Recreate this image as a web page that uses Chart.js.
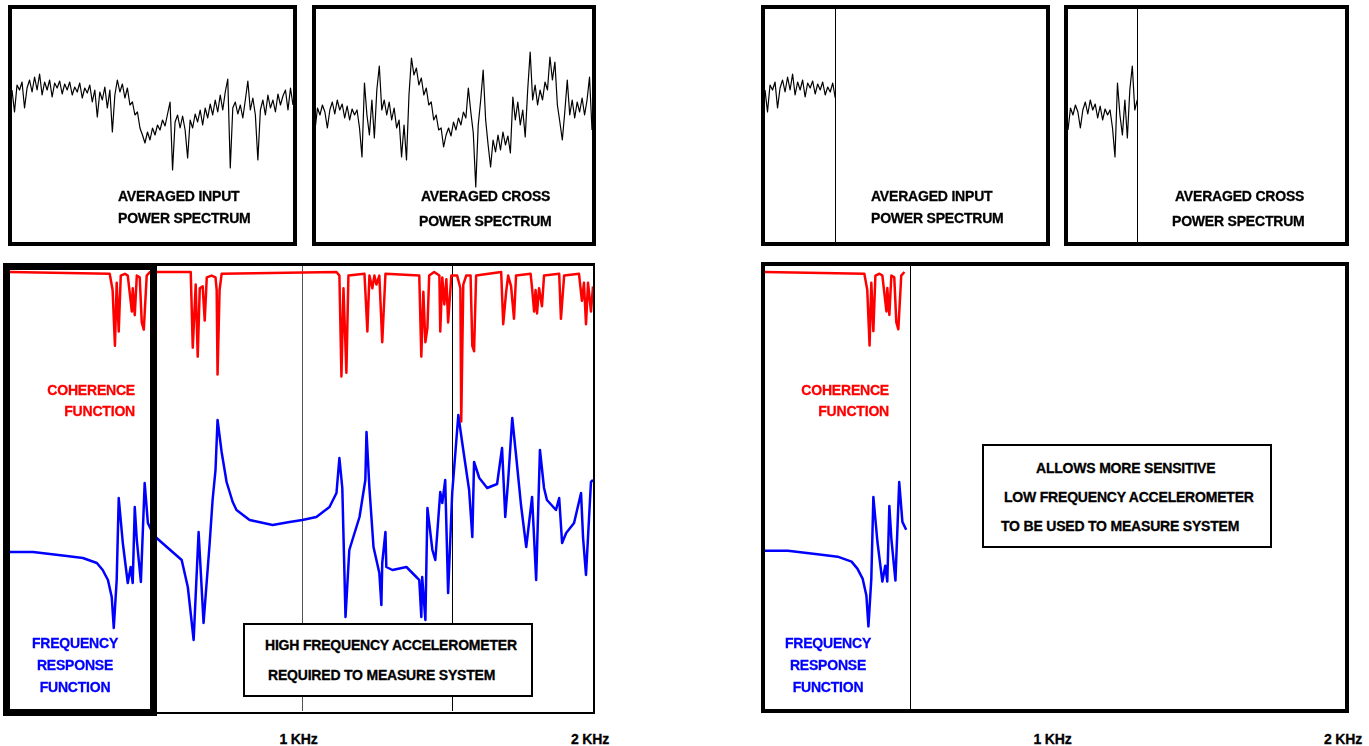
<!DOCTYPE html>
<html>
<head>
<meta charset="utf-8">
<script src="https://cdn.jsdelivr.net/npm/chart.js@4.4.1/dist/chart.umd.min.js"></script>
<style>
  body { margin: 0; background: #fff; }
  #page { position: relative; width: 1369px; height: 746px; overflow: hidden; background: #fff;
          font-family: "Liberation Sans", Arial, sans-serif; font-weight: bold; }
  canvas { position: absolute; }
  .frame { position: absolute; box-sizing: border-box; border: 4px solid #000; }
  .note { position: absolute; box-sizing: border-box; border: 2px solid #000; background: #fff; z-index: 3; }
  .lbl { position: absolute; font-size: 14px; letter-spacing: -0.2px; white-space: nowrap; line-height: 16px; z-index: 4;
         -webkit-text-stroke: 0.3px currentColor; }
</style>
</head>
<body>
<div id="page">
  <!-- top spectra, left half -->
  <div class="frame" style="left:8px;top:5px;width:289px;height:241px;"></div>
  <div class="frame" style="left:312px;top:5px;width:284px;height:241px;"></div>
  <canvas id="inL" width="281" height="233" style="left:12px;top:9px;"></canvas>
  <canvas id="crL" width="277" height="233" style="left:315px;top:9px;"></canvas>

  <!-- top spectra, right half -->
  <div class="frame" style="left:761px;top:5px;width:289px;height:241px;"></div>
  <div class="frame" style="left:1064px;top:5px;width:285px;height:241px;"></div>
  <canvas id="inR" width="281" height="233" style="left:765px;top:9px;"></canvas>
  <canvas id="crR" width="277" height="233" style="left:1068px;top:9px;"></canvas>

  <!-- bottom left -->
  <div class="frame" style="left:6px;top:263px;width:589px;height:451px;border-width:3px 2px 2px 0;"></div>
  <canvas id="frL" width="583" height="445" style="left:10px;top:266px;"></canvas>
  <div class="frame" style="left:3px;top:263px;width:154px;height:453px;border-width:7px;z-index:2;"></div>
  <div class="note" style="left:243px;top:623px;width:290px;height:74px;"></div>

  <!-- bottom right -->
  <div class="frame" style="left:761px;top:262px;width:588px;height:451px;"></div>
  <canvas id="frR" width="581" height="443" style="left:765px;top:266px;"></canvas>
  <div class="note" style="left:982px;top:444px;width:290px;height:104px;"></div>
</div>

<script>
// frequency bin of the averaged spectra (113 bins over 0 - 2 KHz)
const spectrumBinHz = 2000 / 112;

// averaged input power spectrum, level
const inputSpectrum = [
  150,128,155,150,158,132,152,160,148,163,150,166,145,158,150,160,143,157,152,159,
  146,156,150,158,145,153,148,157,142,152,147,155,138,150,123,148,140,153,132,150,108,145,
  160,148,156,142,152,135,
  138,125,128,112,105,97,
  108,100,112,105,115,110,120,114,126,
  138,70,118,125,
  112,124,110,82,120,
  112,126,118,130,115,132,122,136,125,140,128,145,130,148,
  161,72,132,
  138,126,135,122,140,159,130,
  142,125,80,130,
  140,125,145,132,140,128,146,135,144,150,130,152,135
];

// averaged cross power spectrum
const crossSpectrum = [
  110,132,125,135,128,112,130,138,126,140,
  130,136,122,134,120,131,125,130,112,83,
  157,125,105,140,102,150,174,130,140,125,
  138,120,132,112,120,83,115,80,145,182,
  165,172,155,162,145,152,135,138,120,125,
  110,112,93,105,112,104,118,110,122,115,
  128,122,152,128,107,53,115,140,170,120,
  95,73,100,88,105,90,108,95,104,87,
  143,120,138,115,130,103,150,188,140,155,
  135,150,140,158,150,183,160,178,135,118,
  100,128,160,125,140,122,138,128,142,125,
  140,163,110
];

// coherence function
const coherenceHz = [
  0,342,352,360,366,373,380,394,404,418,421,428,435,445,452,459,469,480,
  620,627,637,644,651,661,668,675,692,705,709,712,719,726,
  1120,1130,1137,1144,1154,1161,
  1216,1226,1233,1243,1250,1257,1267,1277,1288,
  1404,1411,1418,1425,1432,1438,1455,
  1473,1476,1483,1490,1497,1503,1514,
  1534,1545,1548,1555,1565,1580,1586,1592,1599,
  1685,1692,1702,1709,1719,1729,1736,
  1786,1791,1798,1803,1808,1815,1825,1832,
  1884,1890,1901,
  1952,1962,1969,1976,1983,1993,2000
];
const coherence = [
  1.0,0.99,0.9,0.59,0.94,0.67,0.98,0.99,0.98,0.78,0.91,0.76,0.98,0.97,0.72,0.68,0.98,1.0,
  1.0,0.58,0.93,0.53,0.91,0.92,0.73,0.97,0.98,0.97,0.9,0.43,0.9,0.99,
  1.0,0.98,0.42,0.91,0.44,0.98,
  0.99,0.67,0.98,0.91,0.98,0.93,0.98,0.61,0.99,
  0.98,0.53,0.89,0.61,0.69,0.98,1.0,
  0.98,0.67,0.97,0.82,0.96,0.72,0.98,
  0.98,0.91,0.17,0.93,0.98,0.98,0.59,0.56,0.98,
  1.0,0.71,0.89,0.98,0.92,0.74,0.98,
  0.99,0.91,0.78,0.9,0.77,0.91,0.81,0.98,
  0.99,0.74,0.98,
  0.99,0.84,0.94,0.71,0.94,0.78,0.92
];

// frequency response function magnitude (relative level)
const frfHz = [
  0,79,195,250,298,318,336,349,356,366,
  373,387,404,414,421,428,435,449,462,473,
  486,503,538,589,610,630,647,664,685,695,
  705,712,726,743,764,777,822,901,959,1003,
  1051,1096,1120,1130,1140,1151,1164,1199,1219,1223,
  1233,1247,1267,1274,1277,1288,1291,1312,1360,1394,
  1404,1411,1414,1425,1432,1449,1459,1476,1483,1493,
  1503,1517,1538,1551,1575,1586,1592,1610,1637,1671,
  1688,1699,1709,1723,1736,1753,1771,1791,1805,1818,
  1832,1842,1873,1884,1894,1908,1935,1959,1966,1976,
  1993,2000
];
const frfLevel = [
  159,159,155,153,148,141,131,114,83,131,
  213,168,128,144,128,204,171,129,228,188,
  180,173,164,151,124,71,179,88,168,211,
  241,291,259,229,209,201,191,186,189,191,
  194,204,218,253,223,94,161,194,231,279,
  223,164,138,106,148,179,144,141,144,134,
  131,94,134,91,203,161,151,219,208,231,
  118,218,296,269,221,174,249,233,223,227,
  263,194,231,293,256,206,164,214,131,261,
  223,211,201,213,168,178,188,218,173,136,
  229,231
];

// low frequency accelerometer range and grid lines
const lowRangeHz = 500;
const gridHzLeft = [1000, 1515];
const tickHz = [1000, 2000];
const tickLabels = ['1 KHz', '2 KHz'];

const markerPlugin = {
  id: 'markers',
  beforeDatasetsDraw(chart, args, opts) {
    const { ctx, chartArea, scales } = chart;
    (opts.lines || []).forEach(function (m) {
      const x = Math.round(scales.x.getPixelForValue(m.hz)) + 0.5;
      ctx.save();
      ctx.strokeStyle = m.color;
      ctx.lineWidth = 1;
      ctx.beginPath();
      ctx.moveTo(x, chartArea.top);
      ctx.lineTo(x, chartArea.bottom);
      ctx.stroke();
      ctx.restore();
    });
  }
};
Chart.register(markerPlugin);

function spectrumPoints(values, maxHz) {
  return values
    .map((v, i) => ({ x: i * spectrumBinHz, y: v }))
    .filter(p => p.x <= maxHz + 0.01);
}

function zipPoints(xs, ys, maxHz) {
  return xs.map((x, i) => ({ x: x, y: ys[i] })).filter(p => p.x <= maxHz);
}

function makeChart(id, datasets, yScales, lines) {
  const scales = {
    x: { type: 'linear', min: 0, max: 2000, display: false }
  };
  Object.keys(yScales).forEach(k => {
    scales[k] = { type: 'linear', min: yScales[k][0], max: yScales[k][1], display: false };
  });
  return new Chart(document.getElementById(id), {
    type: 'line',
    data: { datasets: datasets },
    options: {
      responsive: false,
      animation: false,
      events: [],
      layout: { padding: 0 },
      elements: { point: { radius: 0 }, line: { tension: 0, borderJoinStyle: 'round' } },
      plugins: { legend: { display: false }, tooltip: { enabled: false }, markers: { lines: lines } },
      scales: scales
    }
  });
}

function spectrumChart(id, values, maxHz, lines) {
  return makeChart(id, [{
    data: spectrumPoints(values, maxHz),
    borderColor: '#000',
    borderWidth: 1.2,
    yAxisID: 'y'
  }], { y: [-2, 231] }, lines);
}

spectrumChart('inL', inputSpectrum, 2000, []);
spectrumChart('crL', crossSpectrum, 2000, []);
spectrumChart('inR', inputSpectrum, lowRangeHz, [{ hz: lowRangeHz, color: '#000' }]);
spectrumChart('crR', crossSpectrum, lowRangeHz, [{ hz: lowRangeHz, color: '#000' }]);

function responseChart(id, maxHz, lines) {
  return makeChart(id, [
    {
      data: zipPoints(coherenceHz, coherence, maxHz),
      borderColor: '#ff0000',
      borderWidth: 2.5,
      yAxisID: 'yCoh'
    },
    {
      data: zipPoints(frfHz, frfLevel, maxHz),
      borderColor: '#0000ff',
      borderWidth: 2.5,
      yAxisID: 'yFrf'
    }
  ], { yCoh: [-1.439, 1.0333], yFrf: [0, 445] }, lines);
}

const frL = responseChart('frL', 2000, [
  { hz: gridHzLeft[0], color: '#555' },
  { hz: gridHzLeft[1], color: '#000' }
]);
const frR = responseChart('frR', lowRangeHz, [{ hz: lowRangeHz, color: '#000' }]);

// text labels
const page = document.getElementById('page');
function label(text, x, y, color, align) {
  const d = document.createElement('div');
  d.className = 'lbl';
  d.textContent = text;
  d.style.top = (y - 8) + 'px';
  d.style.color = color || '#000';
  if (align === 'right') {
    d.style.right = (1369 - x) + 'px';
  } else if (align === 'center') {
    d.style.left = x + 'px';
    d.style.transform = 'translateX(-50%)';
  } else {
    d.style.left = x + 'px';
  }
  page.appendChild(d);
}

[[0, 0], [753, 0]].forEach(function (off, k) {
  const dx = off[0];
  label('AVERAGED INPUT', 118 + dx, 196);
  label('POWER SPECTRUM', 118 + dx, 218);
  label('AVERAGED CROSS', 421 + dx + k, 196);
  label('POWER SPECTRUM', 419 + dx, 221);
  label('COHERENCE', 135 + dx + k, 390, '#ff0000', 'right');
  label('FUNCTION', 135 + dx + k, 411, '#ff0000', 'right');
  label('FREQUENCY', 75 + dx, 643, '#0000ff', 'center');
  label('RESPONSE', 75 + dx, 665, '#0000ff', 'center');
  label('FUNCTION', 75 + dx, 687, '#0000ff', 'center');
});

label('HIGH FREQUENCY ACCELEROMETER', 265, 645);
label('REQUIRED TO MEASURE SYSTEM', 268, 675);
label('ALLOWS MORE SENSITIVE', 1036, 468);
label('LOW FREQUENCY ACCELEROMETER', 1004, 497);
label('TO BE USED TO MEASURE SYSTEM', 1001, 526);

// frequency tick labels placed through each chart's x scale
[[frL, 10], [frR, 765]].forEach(function (pair) {
  const chart = pair[0];
  tickHz.forEach(function (hz, i) {
    const px = pair[1] + chart.scales.x.getPixelForValue(hz) - 3;
    label(tickLabels[i], Math.min(px, 1349), 739, '#000', 'center');
  });
});
</script>
</body>
</html>
